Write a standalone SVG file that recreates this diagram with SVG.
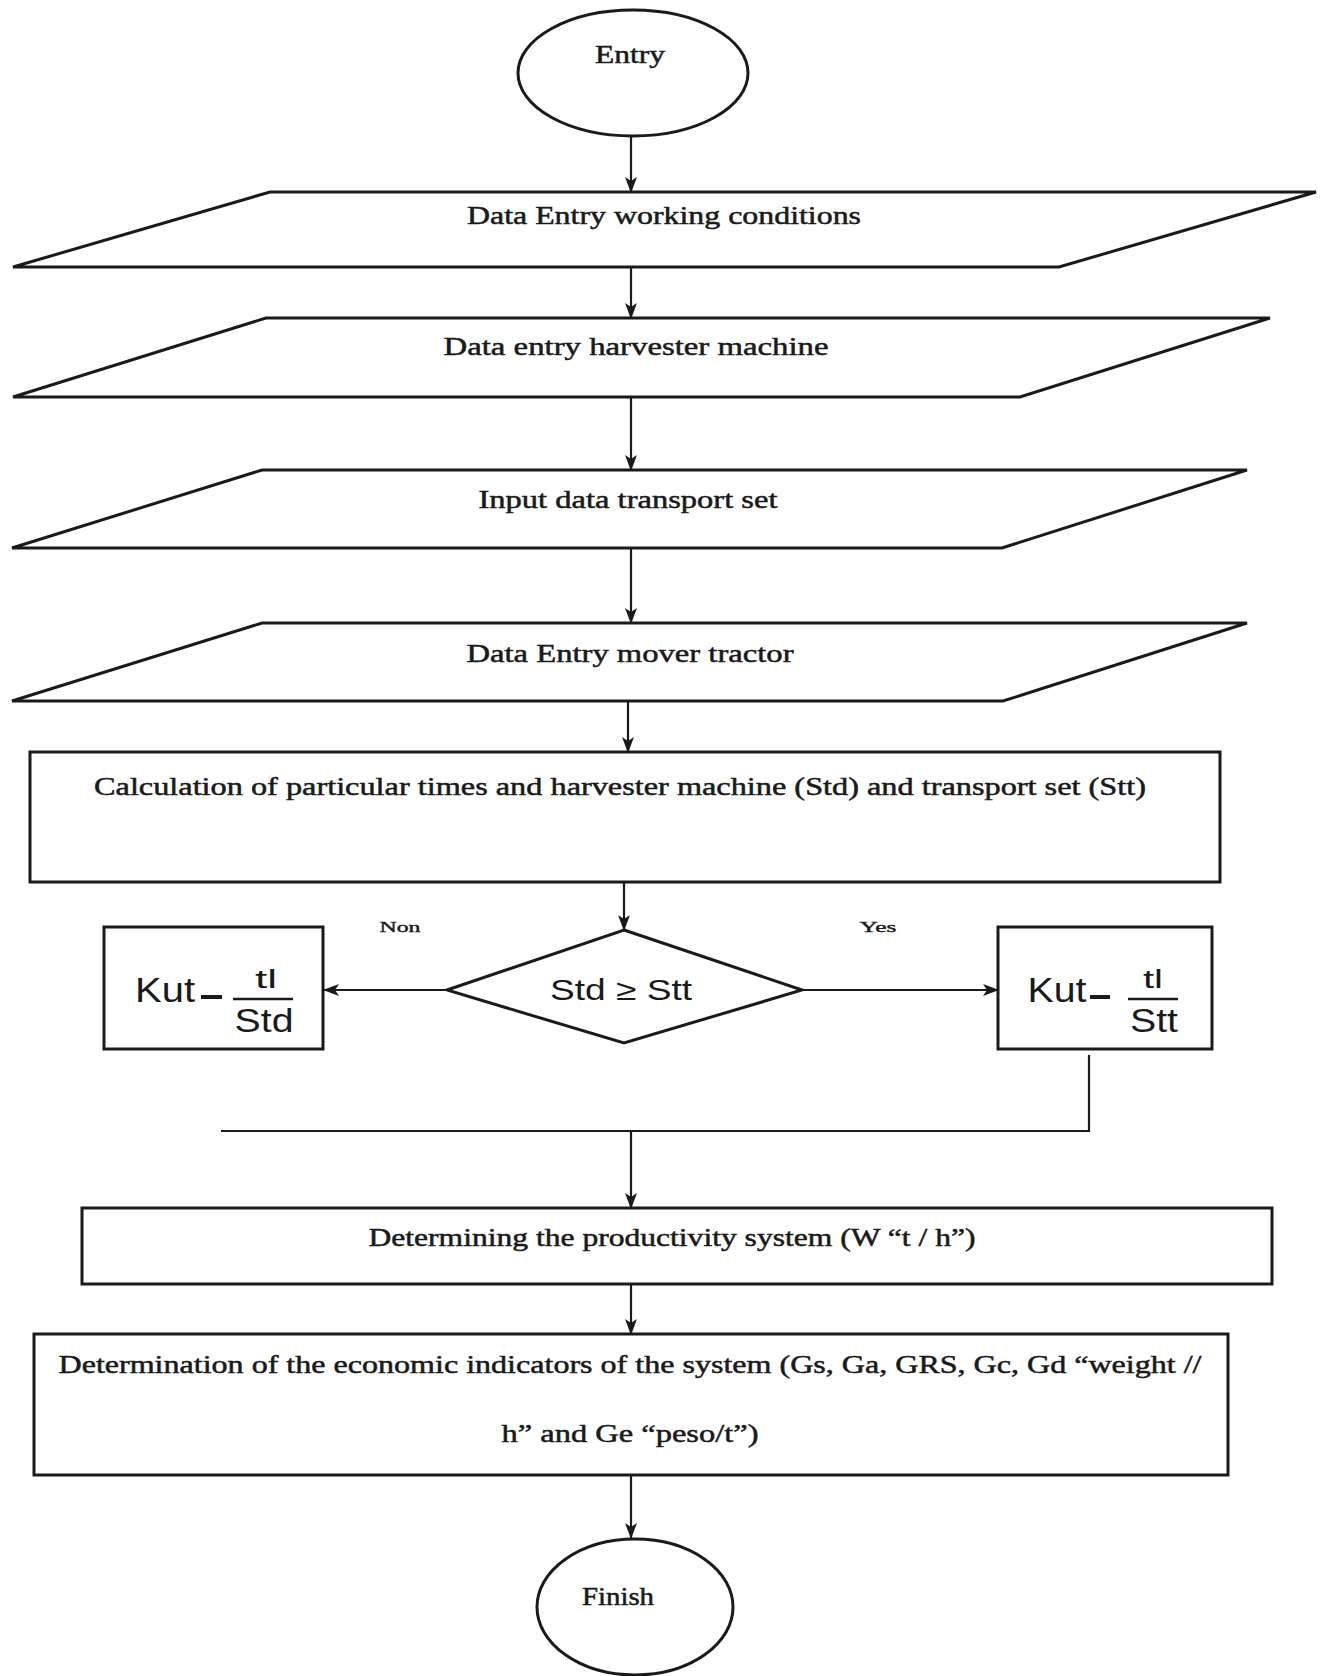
<svg xmlns="http://www.w3.org/2000/svg" width="1323" height="1676" viewBox="0 0 1323 1676">
<defs>
<marker id="arr" markerUnits="userSpaceOnUse" markerWidth="16" markerHeight="12" refX="15" refY="6" orient="auto">
<path d="M0,0 L16,6 L0,12 L4,6 Z" fill="#1a1a1a"/>
</marker>
<style>
.shape{fill:#fff;stroke:#1a1a1a;stroke-width:3}
.conn{fill:none;stroke:#1a1a1a;stroke-width:2.2}
.lbl{font-family:"Liberation Serif","Times New Roman",serif;font-size:25px;fill:#1a1a1a;stroke:#1a1a1a;stroke-width:0.5;text-anchor:middle}
.small{font-family:"Liberation Serif","Times New Roman",serif;font-size:15px;fill:#1a1a1a;stroke:#1a1a1a;stroke-width:0.4;text-anchor:middle}
.math{font-family:"Liberation Sans",Arial,sans-serif;fill:#1a1a1a;text-anchor:middle}
</style>
</defs>
<rect width="1323" height="1676" fill="#fff"/>

<g id="connectors">
<line class="conn" x1="631" y1="137" x2="631" y2="192" marker-end="url(#arr)"/>
<line class="conn" x1="631" y1="267" x2="631" y2="318" marker-end="url(#arr)"/>
<line class="conn" x1="631" y1="397" x2="631" y2="470" marker-end="url(#arr)"/>
<line class="conn" x1="631" y1="548" x2="631" y2="623" marker-end="url(#arr)"/>
<line class="conn" x1="628" y1="701" x2="628" y2="752" marker-end="url(#arr)"/>
<line class="conn" x1="624" y1="882" x2="624" y2="930" marker-end="url(#arr)"/>
<line class="conn" x1="447" y1="990" x2="324" y2="990" stroke-width="3" marker-end="url(#arr)"/>
<line class="conn" x1="802" y1="990" x2="998" y2="990" stroke-width="3" marker-end="url(#arr)"/>
<polyline class="conn" points="1089,1055 1089,1131 221,1131" stroke-width="3"/>
<line class="conn" x1="631" y1="1131" x2="631" y2="1208" marker-end="url(#arr)"/>
<line class="conn" x1="631" y1="1284" x2="631" y2="1334" marker-end="url(#arr)"/>
<line class="conn" x1="631" y1="1475" x2="631" y2="1538" marker-end="url(#arr)"/>
</g>

<g id="entry">
<ellipse class="shape" cx="633" cy="73" rx="115" ry="63"/>
<text class="lbl" x="630" y="63" textLength="70" lengthAdjust="spacingAndGlyphs">Entry</text>
</g>

<g id="data-working">
<polygon class="shape" points="270,192 1316,192 1059,267 13,267"/>
<text class="lbl" x="664" y="224" textLength="394" lengthAdjust="spacingAndGlyphs">Data Entry working conditions</text>
</g>

<g id="data-harvester">
<polygon class="shape" points="266,318 1270,318 1020,397 13,397"/>
<text class="lbl" x="636" y="355" textLength="385" lengthAdjust="spacingAndGlyphs">Data entry harvester machine</text>
</g>

<g id="input-transport">
<polygon class="shape" points="262,470 1247,470 1002,548 12,548"/>
<text class="lbl" x="628" y="508" textLength="299" lengthAdjust="spacingAndGlyphs">Input data transport set</text>
</g>

<g id="data-tractor">
<polygon class="shape" points="262,623 1247,623 1003,701 12,701"/>
<text class="lbl" x="630" y="662" textLength="327" lengthAdjust="spacingAndGlyphs">Data Entry mover tractor</text>
</g>

<g id="calculation">
<rect class="shape" x="30" y="752" width="1190" height="130"/>
<text class="lbl" x="620" y="795" textLength="1052" lengthAdjust="spacingAndGlyphs">Calculation of particular times and harvester machine (Std) and transport set (Stt)</text>
</g>

<g id="decision">
<polygon class="shape" points="624,930 802,990 624,1043 447,990"/>
<text class="math" x="621" y="1000" font-size="29" textLength="142" lengthAdjust="spacingAndGlyphs">Std ≥ Stt</text>
</g>

<text class="small" x="400" y="932" textLength="41" lengthAdjust="spacingAndGlyphs">Non</text>
<text class="small" x="878" y="932" textLength="37" lengthAdjust="spacingAndGlyphs">Yes</text>

<g id="kut-std">
<rect class="shape" x="104" y="927" width="219" height="122"/>
<text class="math" x="165" y="1002" font-size="35" textLength="60" lengthAdjust="spacingAndGlyphs">Kut</text>
<line x1="201" y1="997" x2="222" y2="997" stroke="#1a1a1a" stroke-width="4"/>
<text class="math" x="266" y="988" font-size="25" textLength="22" lengthAdjust="spacingAndGlyphs">tl</text>
<line x1="233" y1="999" x2="293" y2="999" stroke="#1a1a1a" stroke-width="2.5"/>
<text class="math" x="264" y="1032" font-size="33" textLength="59" lengthAdjust="spacingAndGlyphs">Std</text>
</g>

<g id="kut-stt">
<rect class="shape" x="998" y="927" width="214" height="122"/>
<text class="math" x="1057" y="1002" font-size="35" textLength="59" lengthAdjust="spacingAndGlyphs">Kut</text>
<line x1="1090" y1="997" x2="1110" y2="997" stroke="#1a1a1a" stroke-width="4"/>
<text class="math" x="1153" y="988" font-size="25" textLength="20" lengthAdjust="spacingAndGlyphs">tl</text>
<line x1="1128" y1="999" x2="1178" y2="999" stroke="#1a1a1a" stroke-width="2.5"/>
<text class="math" x="1154" y="1032" font-size="33" textLength="48" lengthAdjust="spacingAndGlyphs">Stt</text>
</g>

<g id="productivity">
<rect class="shape" x="82" y="1208" width="1190" height="76"/>
<text class="lbl" x="672" y="1246" textLength="607" lengthAdjust="spacingAndGlyphs">Determining the productivity system (W “t / h”)</text>
</g>

<g id="economic">
<rect class="shape" x="34" y="1334" width="1194" height="141"/>
<text class="lbl" x="630" y="1373" textLength="1143" lengthAdjust="spacingAndGlyphs">Determination of the economic indicators of the system (Gs, Ga, GRS, Gc, Gd “weight //</text>
<text class="lbl" x="630" y="1442" textLength="257" lengthAdjust="spacingAndGlyphs">h” and Ge “peso/t”)</text>
</g>

<g id="finish">
<ellipse class="shape" cx="635" cy="1607" rx="98" ry="68"/>
<text class="lbl" x="618" y="1605" textLength="72" lengthAdjust="spacingAndGlyphs">Finish</text>
</g>
</svg>
